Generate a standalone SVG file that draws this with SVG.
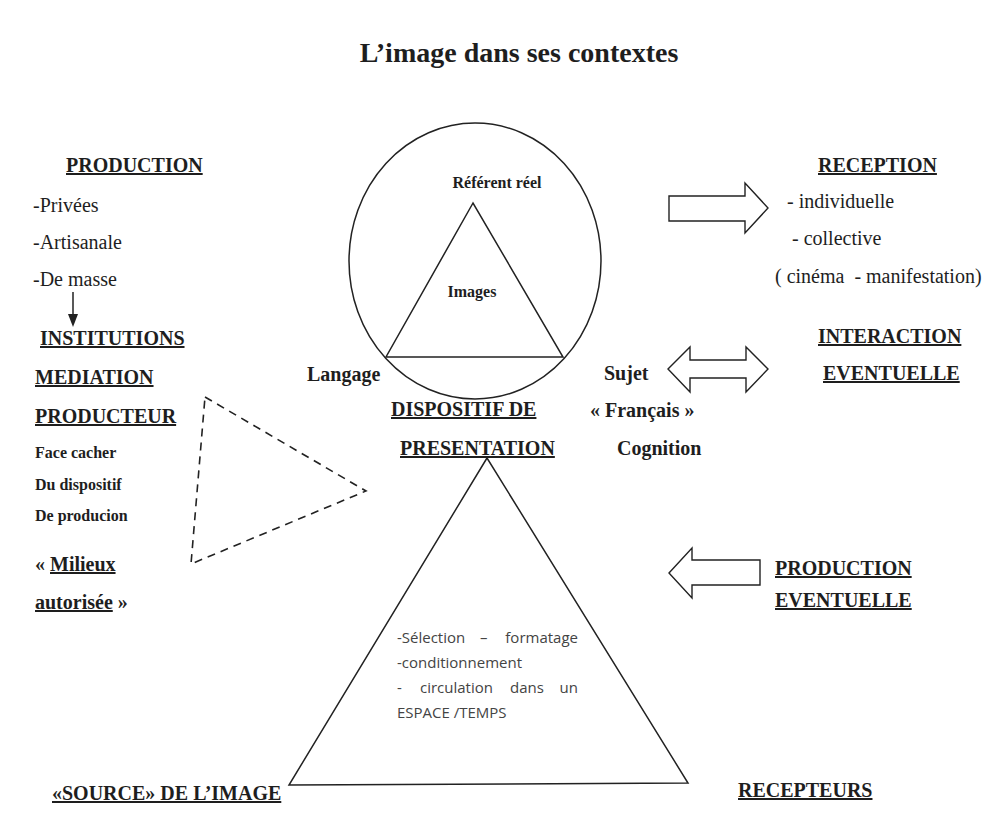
<svg xmlns="http://www.w3.org/2000/svg" width="1004" height="816" viewBox="0 0 1004 816">
<style>
text{font-family:"Liberation Serif","Times New Roman",serif;fill:#1e1e1e}
.t{font-size:28px;font-weight:bold}
.h{font-size:20px;font-weight:bold}
.hu{font-size:20px;font-weight:bold;text-decoration:underline}
.r{font-family:"Liberation Serif","Times New Roman",serif;font-size:20px;font-weight:normal}
.s{font-size:16px;font-weight:bold}
.sans{font-family:"Open Sans","Liberation Sans",sans-serif;font-size:15px;fill:#444}
.shape{fill:none;stroke:#222;stroke-width:1.5}
.blk{fill:#fff;stroke:#222;stroke-width:1.4}
.dash{fill:none;stroke:#222;stroke-width:1.6;stroke-dasharray:8 6}
</style>
<rect width="1004" height="816" fill="#fff"/>
<text class="t" x="519" y="62" text-anchor="middle">L’image dans ses contextes</text>

<g id="production">
<text class="hu" x="66" y="172">PRODUCTION</text>
<text class="r" x="33" y="212">-Privées</text>
<text class="r" x="33" y="249">-Artisanale</text>
<text class="r" x="33" y="286">-De masse</text>
</g>
<g id="institutions">
<text class="hu" x="40" y="345">INSTITUTIONS</text>
<text class="hu" x="35" y="384">MEDIATION</text>
<text class="hu" x="35" y="423">PRODUCTEUR</text>
<text class="s" x="35" y="458">Face cacher</text>
<text class="s" x="35" y="490">Du dispositif</text>
<text class="s" x="35" y="521">De producion</text>
<text class="h" x="35" y="571">« <tspan text-decoration="underline">Milieux</tspan></text>
<text class="h" x="35" y="609"><tspan text-decoration="underline">autorisée</tspan> »</text>
</g>
<g id="dashed-triangle">
<polygon class="dash" points="205,397 366,491 191,564"/>
</g>
<g id="image-circle">
<ellipse class="shape" cx="475" cy="261" rx="126" ry="138"/>
<polygon class="shape" points="473,203 386,357 563,357"/>
<text class="s" x="497" y="188" text-anchor="middle">Référent réel</text>
<text class="s" x="472" y="297" text-anchor="middle">Images</text>
</g>
<g id="langage"><text class="h" x="307" y="381">Langage</text></g>
<g id="sujet">
<text class="h" x="604" y="380">Sujet</text>
<text class="h" x="590" y="417">« Français »</text>
<text class="h" x="617" y="455">Cognition</text>
</g>
<g id="dispositif">
<text class="hu" x="391" y="416">DISPOSITIF DE</text>
<text class="hu" x="400" y="455">PRESENTATION</text>
<polygon class="shape" points="487,458 289,785 688,783"/>
<text class="sans" y="643"><tspan x="397">-Sélection</tspan><tspan x="480">–</tspan><tspan x="578" text-anchor="end">formatage</tspan></text>
<text class="sans" x="397" y="668">-conditionnement</text>
<text class="sans" y="693"><tspan x="397">-</tspan><tspan x="420">circulation</tspan><tspan x="510">dans</tspan><tspan x="578" text-anchor="end">un</tspan></text>
<text class="sans" x="397" y="718">ESPACE /TEMPS</text>
</g>
<g id="reception">
<text class="hu" x="818" y="172">RECEPTION</text>
<text class="r" x="787" y="208">- individuelle</text>
<text class="r" x="792" y="245">- collective</text>
<text class="r" x="775" y="283" xml:space="preserve">( cinéma  - manifestation)</text>
</g>
<g id="interaction">
<text class="hu" x="818" y="343">INTERACTION</text>
<text class="hu" x="823" y="380">EVENTUELLE</text>
</g>
<g id="production-eventuelle">
<text class="hu" x="775" y="575">PRODUCTION</text>
<text class="hu" x="775" y="607">EVENTUELLE</text>
</g>
<g id="recepteurs"><text class="hu" x="738" y="797">RECEPTEURS</text></g>
<g id="source"><text class="hu" x="52" y="800">«SOURCE» DE L’IMAGE</text></g>

<g id="connectors">
<line x1="73" y1="292" x2="73" y2="316" stroke="#222" stroke-width="1.5"/>
<polygon points="68,314 78,314 73,327" fill="#222"/>
<polygon class="blk" points="669,196 745,196 745,183 768,208 745,233 745,221 669,221"/>
<polygon class="blk" points="668,369 690,347 690,360 746,360 746,347 768,369 746,392 746,378 690,378 690,392"/>
<polygon class="blk" points="669,573 692,548 692,560 760,560 760,585 692,585 692,598"/>
</g>
</svg>
